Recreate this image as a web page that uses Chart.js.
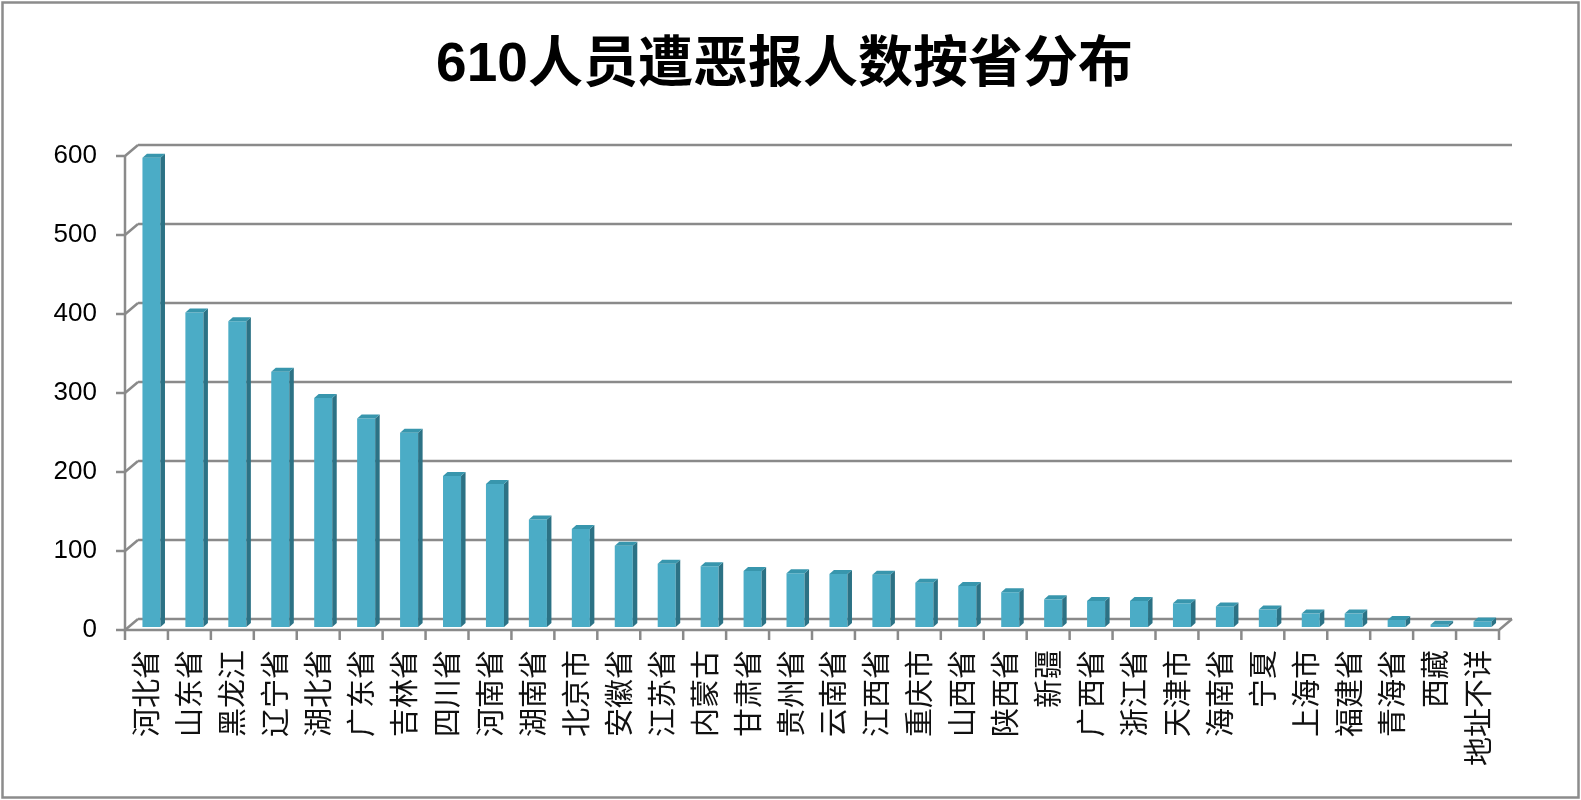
<!DOCTYPE html>
<html>
<head>
<meta charset="utf-8">
<title>610人员遭恶报人数按省分布</title>
<script src="https://cdn.jsdelivr.net/npm/chart.js@4"></script>
<style>
  html, body { margin: 0; padding: 0; background: #fff; }
  #wrap { width: 1581px; height: 800px; }
</style>
</head>
<body>
<div id="wrap"><canvas id="provChart" width="1581" height="800"></canvas></div>
<script>
// data
const provinces = [
  "河北省", "山东省", "黑龙江", "辽宁省", "湖北省", "广东省", "吉林省", "四川省",
  "河南省", "湖南省", "北京市", "安徽省", "江苏省", "内蒙古", "甘肃省", "贵州省",
  "云南省", "江西省", "重庆市", "山西省", "陕西省", "新疆", "广西省", "浙江省",
  "天津市", "海南省", "宁夏", "上海市", "福建省", "青海省", "西藏", "地址不详"
];
const counts = [
  594, 398, 387, 323, 290, 264, 246, 191,
  181, 136, 124, 103, 80, 77, 71, 68,
  67, 66, 56, 52, 44, 35, 33, 33,
  30, 26, 22, 17, 17, 9, 3, 7
];
const yMin = 0;
const yMax = 600;
const yStep = 100;

// fake 3d look (Excel style)
const WALL_DX = 13, WALL_DY = -11;   // back wall offset
const BAR_DX = 5, BAR_DY = -3;       // bars sit mid depth
const SIDE_DX = 4.5, SIDE_DY = -4;   // bar side/top depth
const lineCol = '#8a8a8a';

const frame3d = {
  id: 'frame3d',
  beforeDraw(chart) {
    const ctx = chart.ctx;
    ctx.save();
    ctx.fillStyle = '#fff';
    ctx.fillRect(0, 0, chart.width, chart.height);
    ctx.strokeStyle = '#8c8c8c';
    ctx.lineWidth = 2.5;
    ctx.strokeRect(2.5, 2.5, chart.width - 5, chart.height - 5);
    ctx.restore();
  },
  beforeDatasetsDraw(chart) {
    const ctx = chart.ctx;
    const a = chart.chartArea;
    const ys = chart.scales.y, xs = chart.scales.x;
    ctx.save();
    ctx.strokeStyle = lineCol;
    ctx.lineWidth = 2.5;
    ctx.lineCap = 'butt';
    // back wall gridlines + diagonals + front tick marks
    for (let v = yMin; v <= yMax; v += yStep) {
      const y = ys.getPixelForValue(v);
      ctx.beginPath();
      ctx.moveTo(a.left + WALL_DX, y + WALL_DY);
      ctx.lineTo(a.right + WALL_DX, y + WALL_DY);
      ctx.moveTo(a.left, y);
      ctx.lineTo(a.left + WALL_DX, y + WALL_DY);
      ctx.moveTo(a.left - 9, y);
      ctx.lineTo(a.left, y);
      ctx.stroke();
    }
    // front axes
    ctx.beginPath();
    ctx.moveTo(a.left, ys.getPixelForValue(yMax));
    ctx.lineTo(a.left, a.bottom);
    ctx.lineTo(a.right, a.bottom);
    ctx.lineTo(a.right + WALL_DX, a.bottom + WALL_DY);
    ctx.stroke();
    // category tick marks
    const n = provinces.length;
    const slot = (a.right - a.left) / n;
    ctx.beginPath();
    for (let i = 0; i <= n; i++) {
      const x = i < n ? xs.getPixelForValue(i) - slot / 2 : xs.getPixelForValue(n - 1) + slot / 2;
      ctx.moveTo(x, a.bottom);
      ctx.lineTo(x, a.bottom + 10);
    }
    ctx.stroke();
    ctx.restore();

    ctx.save();
    ctx.translate(BAR_DX, BAR_DY);
  },
  afterDatasetsDraw(chart) {
    const ctx = chart.ctx;
    const meta = chart.getDatasetMeta(0);
    meta.data.forEach(function(el) {
      const p = el.getProps(['x', 'y', 'width', 'base'], true);
      const l = p.x - p.width / 2, r = p.x + p.width / 2;
      // side
      ctx.fillStyle = '#2c7285';
      ctx.beginPath();
      ctx.moveTo(r, p.y);
      ctx.lineTo(r + SIDE_DX, p.y + SIDE_DY);
      ctx.lineTo(r + SIDE_DX, p.base + SIDE_DY);
      ctx.lineTo(r, p.base);
      ctx.closePath();
      ctx.fill();
      // top
      ctx.fillStyle = '#3896ad';
      ctx.beginPath();
      ctx.moveTo(l, p.y);
      ctx.lineTo(l + SIDE_DX, p.y + SIDE_DY);
      ctx.lineTo(r + SIDE_DX, p.y + SIDE_DY);
      ctx.lineTo(r, p.y);
      ctx.closePath();
      ctx.fill();
    });
    ctx.restore();
  }
};

new Chart(document.getElementById('provChart'), {
  type: 'bar',
  data: {
    labels: provinces,
    datasets: [{
      data: counts,
      backgroundColor: '#4bacc6',
      borderWidth: 0,
      categoryPercentage: 1,
      barPercentage: 0.42,
      clip: false
    }]
  },
  options: {
    responsive: false,
    animation: false,
    devicePixelRatio: 1,
    layout: { padding: { left: 35, right: 47, top: 0, bottom: 0 } },
    plugins: {
      legend: { display: false },
      tooltip: { enabled: false },
      title: {
        display: true,
        text: '610人员遭恶报人数按省分布',
        color: '#000',
        font: { family: "'Liberation Sans', 'Noto Sans CJK SC', sans-serif", size: 55, weight: 'bold' },
        padding: { top: 33, bottom: 57 }
      }
    },
    scales: {
      x: {
        grid: { display: false, drawTicks: false },
        border: { display: false },
        ticks: {
          autoSkip: false,
          minRotation: 90,
          maxRotation: 90,
          padding: 20,
          color: '#111',
          font: { family: "'Noto Sans CJK SC', sans-serif", size: 29 }
        },
        afterFit(scale) { scale.height = 170; }
      },
      y: {
        min: yMin,
        max: yMax,
        grid: { display: false, drawTicks: false },
        border: { display: false },
        ticks: {
          stepSize: yStep,
          padding: 28,
          color: '#000',
          font: { family: "'Liberation Sans', sans-serif", size: 26 }
        },
        afterFit(scale) { scale.width = 90; }
      },
      // empty spacer on the right, keeps the title centred on the page
      yRight: {
        position: 'right',
        min: yMin,
        max: yMax,
        grid: { display: false, drawTicks: false },
        border: { display: false },
        ticks: { display: false },
        afterFit(scale) { scale.width = 35; }
      }
    }
  },
  plugins: [frame3d]
});
</script>
</body>
</html>
